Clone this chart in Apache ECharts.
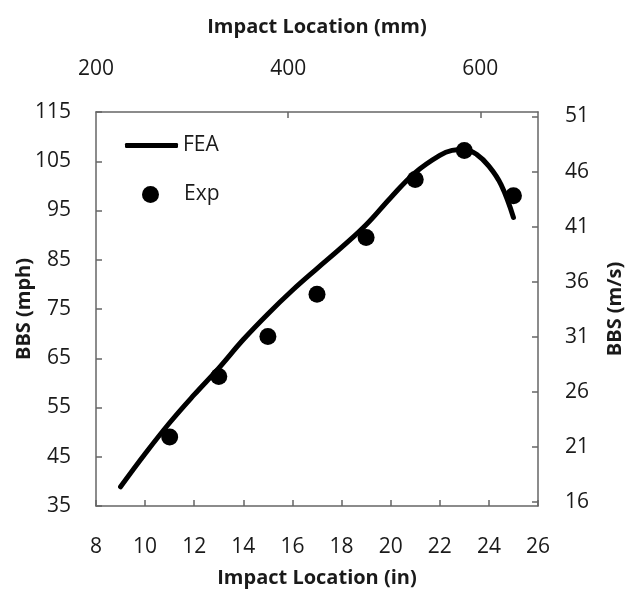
<!DOCTYPE html>
<html>
<head>
<meta charset="utf-8">
<script src="https://cdn.jsdelivr.net/npm/echarts@6/dist/echarts.min.js"></script>
<style>
  html, body { margin: 0; padding: 0; background: #fff; }
  #chart { width: 626px; height: 595px; }
</style>
</head>
<body>
<div id="chart"></div>
<script>
// FEA curve (impact location in inches, BBS in mph)
var feaIn  = [9, 10, 11, 12, 13, 14, 15, 16, 17, 18, 19, 20, 21, 22, 22.5, 23, 23.5, 24, 24.5, 25];
var feaMph = [38.9, 45.6, 51.9, 57.6, 63.0, 68.8, 74.0, 78.8, 83.2, 87.5, 92.1, 97.6, 102.7, 106.2, 107.2, 107.4, 106.4, 104.0, 100.2, 93.6];

// experimental points
var expIn  = [11, 13, 15, 17, 19, 21, 23, 25];
var expMph = [49.0, 61.3, 69.4, 78.0, 89.5, 101.3, 107.2, 98.0];

// tick labels
var mmLabels  = [200, 400, 600];
var mmTicks   = [400, 600];
var msLabels  = [16, 21, 26, 31, 36, 41, 46, 51];

var MPH_TO_MS = 0.44704;
var FONT = '"Open Sans", sans-serif';
var TXT = '#1a1a1a';
var AX = '#666';

function pairs(xs, ys) {
  var out = [];
  for (var i = 0; i < xs.length; i++) out.push([xs[i], ys[i]]);
  return out;
}

var chart = echarts.init(document.getElementById('chart'));
chart.setOption({
  animation: false,
  textStyle: { fontFamily: FONT },
  grid: { left: 96, right: 88, top: 112, bottom: 89, containLabel: false, outerBoundsMode: 'none' },
  legend: [
    {
      data: ['FEA'], left: 125, top: 135, padding: 0,
      icon: 'roundRect', itemWidth: 53, itemHeight: 5,
      textStyle: { fontSize: 21, color: TXT, fontFamily: FONT }
    },
    {
      data: [{ name: 'Exp', itemStyle: { color: '#000', opacity: 1 } }], left: 142, top: 184, padding: 0,
      icon: 'circle', itemWidth: 17, itemHeight: 17,
      textStyle: { fontSize: 21, color: TXT, fontFamily: FONT, padding: [0, 0, 0, 20] }
    }
  ],
  xAxis: [
    {
      type: 'value', position: 'bottom', min: 8, max: 26, interval: 2,
      name: 'Impact Location (in)', nameLocation: 'middle', nameGap: 62,
      nameTextStyle: { fontSize: 20, fontWeight: 'bold', color: TXT },
      axisLine: { show: true, lineStyle: { color: AX, width: 1.5 } },
      axisTick: { show: true, inside: true, length: 6, lineStyle: { color: AX, width: 1.5 } },
      axisLabel: { fontSize: 21, color: TXT, margin: 31 },
      splitLine: { show: false }
    },
    {
      type: 'value', position: 'top', min: 200, max: 660,
      name: 'Impact Location (mm)', nameLocation: 'middle', nameGap: 75,
      nameTextStyle: { fontSize: 20, fontWeight: 'bold', color: TXT },
      axisLine: { show: true, lineStyle: { color: AX, width: 1.5 } },
      axisTick: { show: true, inside: true, length: 6, customValues: mmTicks, lineStyle: { color: AX, width: 1.5 } },
      axisLabel: { fontSize: 21, color: TXT, margin: 32, customValues: mmLabels, showMinLabel: true },
      splitLine: { show: false }
    }
  ],
  yAxis: [
    {
      type: 'value', position: 'left', min: 35, max: 115, interval: 10,
      name: 'BBS (mph)', nameLocation: 'middle', nameGap: 62, nameRotate: 90, nameMoveOverlap: false,
      nameTextStyle: { fontSize: 20, fontWeight: 'bold', color: TXT },
      axisLine: { show: true, lineStyle: { color: AX, width: 1.5 } },
      axisTick: { show: true, inside: true, length: 6, lineStyle: { color: AX, width: 1.5 } },
      axisLabel: { fontSize: 21, color: TXT, margin: 25 },
      splitLine: { show: false }
    },
    {
      type: 'value', position: 'right', min: 35 * MPH_TO_MS, max: 115 * MPH_TO_MS,
      name: 'BBS (m/s)', nameLocation: 'middle', nameGap: 67, nameRotate: 90, nameMoveOverlap: false,
      nameTextStyle: { fontSize: 20, fontWeight: 'bold', color: TXT },
      axisLine: { show: true, lineStyle: { color: AX, width: 1.5 } },
      axisTick: { show: true, inside: true, length: 6, customValues: msLabels, lineStyle: { color: AX, width: 1.5 } },
      axisLabel: { fontSize: 21, color: TXT, margin: 27, customValues: msLabels },
      splitLine: { show: false }
    }
  ],
  series: [
    {
      name: 'FEA', type: 'line', xAxisIndex: 0, yAxisIndex: 0,
      data: pairs(feaIn, feaMph), smooth: 0.4, showSymbol: false, symbol: 'none',
      lineStyle: { color: '#000', width: 5, cap: 'round' },
      itemStyle: { color: '#000' }
    },
    {
      name: 'Exp', type: 'scatter', xAxisIndex: 0, yAxisIndex: 0,
      data: pairs(expIn, expMph), symbol: 'circle', symbolSize: 17,
      itemStyle: { color: '#000', opacity: 1 }
    }
  ]
});
</script>
</body>
</html>
